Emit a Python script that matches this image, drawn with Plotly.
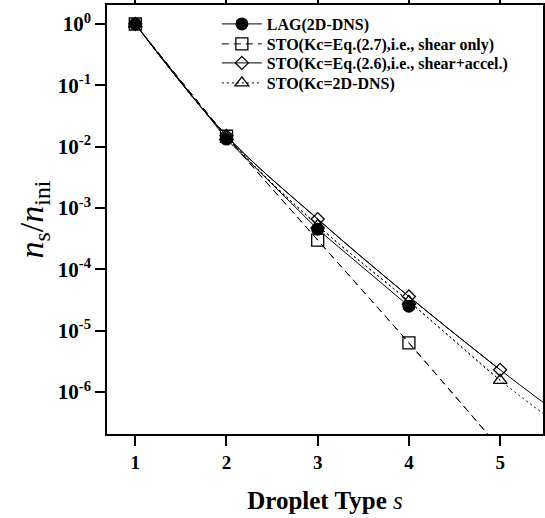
import plotly.graph_objects as go

# Data
s_pts = [1, 2, 3, 4, 5]
s_curve = [1, 2, 3, 4, 5, 5.47]

lag_s = [1, 2, 3, 4]
lag_vals = [1.0, 0.0133, 4.5e-4, 2.5e-5]

sto_shear_vals = [1.0, 0.0148, 3.0e-4, 6.3e-6, 1.2e-7]
sto_shear_curve = [1.0, 0.0148, 3.0e-4, 6.3e-6, 1.2e-7, 1.9e-8]

sto_accel_vals = [1.0, 0.0150, 6.6e-4, 3.6e-5, 2.3e-6]
sto_accel_curve = [1.0, 0.0150, 6.6e-4, 3.6e-5, 2.3e-6, 6.8e-7]

sto_dns_vals = [1.0, 0.0145, 5.2e-4, 3.0e-5, 1.55e-6]
sto_dns_curve = [1.0, 0.0145, 5.2e-4, 3.0e-5, 1.55e-6, 4.5e-7]

ytick_vals = [1, 1e-1, 1e-2, 1e-3, 1e-4, 1e-5, 1e-6]
ytick_text = ["10<sup>0</sup>", "10<sup>-1</sup>", "10<sup>-2</sup>", "10<sup>-3</sup>",
              "10<sup>-4</sup>", "10<sup>-5</sup>", "10<sup>-6</sup>"]
xtick_vals = [1, 2, 3, 4, 5]

names = ["<b>LAG(2D-DNS)</b>",
         "<b>STO(Kc=Eq.(2.7),i.e., shear only)</b>",
         "<b>STO(Kc=Eq.(2.6),i.e., shear+accel.)</b>",
         "<b>STO(Kc=2D-DNS)</b>"]

FONT = "Liberation Serif"
fig = go.Figure()

# smooth curves (no legend)
fig.add_trace(go.Scatter(x=s_curve, y=sto_shear_curve, mode="lines", line=dict(color="black", width=1, dash="7px,5px", shape="spline"), showlegend=False, hoverinfo="skip"))
fig.add_trace(go.Scatter(x=s_curve, y=sto_dns_curve, mode="lines", line=dict(color="black", width=1, dash="2px,3px", shape="spline"), showlegend=False, hoverinfo="skip"))
fig.add_trace(go.Scatter(x=s_curve, y=sto_accel_curve, mode="lines", line=dict(color="black", width=1, shape="spline"), showlegend=False, hoverinfo="skip"))

# markers + legend entries
fig.add_trace(go.Scatter(x=s_pts, y=sto_shear_vals, mode="lines+markers", name=names[1], legend="legend2",
                         line=dict(color="black", width=1, dash="7px,5px", shape="spline"),
                         marker=dict(symbol="square-open", size=12, color="black", line=dict(width=1.3))))
fig.add_trace(go.Scatter(x=s_pts, y=sto_accel_vals, mode="lines+markers", name=names[2], legend="legend3",
                         line=dict(color="black", width=1, shape="spline"),
                         marker=dict(symbol="diamond-open", size=10, color="black", line=dict(width=1.3))))
fig.add_trace(go.Scatter(x=s_pts, y=sto_dns_vals, mode="lines+markers", name=names[3], legend="legend4",
                         line=dict(color="black", width=1, dash="2px,3px", shape="spline"),
                         marker=dict(symbol="triangle-up-open", size=12, color="black", line=dict(width=1.3))))
fig.add_trace(go.Scatter(x=lag_s, y=lag_vals, mode="lines+markers", name=names[0], legend="legend",
                         line=dict(color="black", width=1),
                         marker=dict(symbol="circle", size=13, color="black")))

def leg(ypix):
    return dict(x=0.252, y=1 - (ypix - 5) / 429, xanchor="left", yanchor="middle",
                font=dict(family=FONT, size=16, color="black"),
                bgcolor="rgba(0,0,0,0)", itemwidth=40)

fig.update_layout(
    width=545, height=518,
    margin=dict(l=107, r=2, t=5, b=84, autoexpand=False),
    paper_bgcolor="white", plot_bgcolor="white",
    font=dict(family=FONT, color="black"),
    legend=leg(24), legend2=leg(44), legend3=leg(63), legend4=leg(83),
    xaxis=dict(range=[0.69, 5.47], tickvals=xtick_vals,
               ticktext=["<b>%d</b>" % v for v in xtick_vals],
               ticks="outside", ticklen=10, tickwidth=1.5, tickcolor="black",
               showline=True, linewidth=2, linecolor="black", mirror="allticks",
               showgrid=False, zeroline=False, automargin=False,
               tickfont=dict(family=FONT, size=19),
               title=dict(text="<b>Droplet Type </b><i>s</i>", font=dict(family=FONT, size=25), standoff=20)),
    yaxis=dict(type="log", range=[-6.685, 0.31], tickvals=ytick_vals, ticktext=["<b>%s</b>" % t for t in ytick_text],
               ticks="outside", ticklen=10, tickwidth=1.5, tickcolor="black",
               showline=True, linewidth=1.5, linecolor="black", mirror="allticks",
               showgrid=False, zeroline=False, automargin=False,
               tickfont=dict(family=FONT, size=21),
               title=dict(text="<i>n</i><sub>s</sub>/<i>n</i><sub>ini</sub>", font=dict(family=FONT, size=34), standoff=4)),
)

fig.write_html("out.html")
